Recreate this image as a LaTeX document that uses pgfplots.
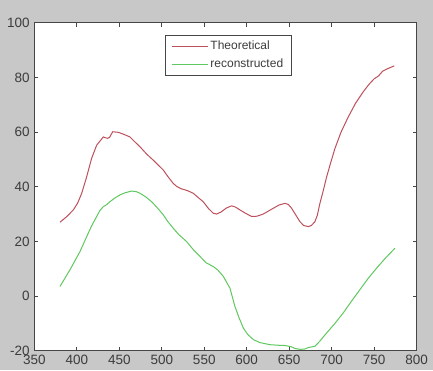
\documentclass[border=0pt]{standalone}
\usepackage{pgfplots}
\pgfplotsset{compat=1.18}
\usepackage{fontspec}
\setmainfont{Liberation Sans}
\definecolor{bggray}{RGB}{200,200,200}
\definecolor{axisgray}{RGB}{70,70,70}
\definecolor{labelgray}{RGB}{60,60,60}
\definecolor{thred}{RGB}{190,80,92}
\definecolor{recgreen}{RGB}{95,200,95}
\begin{document}
\begin{tikzpicture}
\fill[bggray] (-34.3pt,-19.3pt) rectangle (398.7pt,350.7pt);
\begin{axis}[
  at={(0pt,0pt)}, anchor=south west,
  width=382.4pt, height=328pt, scale only axis,
  xmin=350, xmax=800, ymin=-20, ymax=100,
  xtick={350,400,...,800}, ytick={-20,0,...,100},
  tick align=inside, major tick length=4pt,
  axis line style={draw=axisgray, line width=0.9pt},
  every tick/.style={axisgray, line width=0.8pt},
  tick label style={font=\fontsize{13.5}{15}\selectfont, text=labelgray},
  /pgf/number format/assume math mode=true,
  /pgf/number format/1000 sep={},
  axis background/.style={fill=white},
  xticklabel style={inner sep=0pt, anchor=north, yshift=-4pt},
  yticklabel style={inner sep=0pt, anchor=east, xshift=-4.5pt},
  legend style={at={(0.342,0.9625)}, anchor=north west, draw=axisgray, line width=0.8pt,
    fill=white, font=\fontsize{12}{14}\selectfont, text=labelgray,
    inner xsep=6pt, inner ysep=2.5pt, row sep=0pt,
    nodes={text height=9pt, text depth=3pt, inner ysep=2.7pt}},
  legend cell align=left,
  legend image code/.code={\draw[#1] (0pt,0pt) -- (36pt,0pt);},
  clip=true,
]
\addplot[thred, line width=1.0pt] coordinates {
(380.2,27.0)(388,29.0)(395.9,31.5)(401,34.0)(405.8,37.6)(411.6,43.6)(417.5,50.4)
(423.4,55.2)(431.2,58.2)(435.9,57.7)(438.5,58.0)(442.2,60.1)(448.8,59.9)(455,59.2)
(462.6,58.2)(468,56.5)(474.4,54.6)(482,52.0)(490,49.7)(501.8,46.1)(507,43.8)
(513.5,41.2)(518,40.0)(523.4,39.2)(530,38.6)(537,37.6)(543,36.0)(548.8,34.5)
(555,32.0)(560.6,30.3)(564.6,30.0)(570,30.8)(576,32.2)(582.2,33.0)(587,32.5)
(592,31.5)(599,30.2)(605.8,29.1)(612,29.2)(619.4,30.0)(625,31.0)(631.2,32.1)
(638,33.3)(645,33.9)(649,33.5)(652.8,32.1)(657,30.0)(662.6,27.2)(667,25.8)
(672.4,25.4)(676,25.8)(680.2,27.2)(683,29.5)(686.1,33.9)(690,38.5)(694,43.6)
(699,49.0)(703.8,54.0)(711,60.0)(719.4,65.5)(728,70.5)(737,74.7)(744,77.5)
(750,79.5)(755,80.5)(760,82.3)(766,83.2)(773.5,84.2)
};
\addlegendentry{Theoretical}
\addplot[recgreen, line width=1.0pt] coordinates {
(380.2,3.5)(386,6.5)(392,9.6)(398,13.0)(403.8,16.3)(408,19.2)(413.5,23.0)
(418,26.0)(423.4,29.1)(427,31.2)(431.2,32.7)(435,33.4)(439,34.5)(445,35.9)
(450.8,37.0)(457,37.8)(464.6,38.4)(470,38.2)(474.4,37.6)(481,36.3)(488.1,34.5)
(495,32.2)(501.8,29.7)(507,27.3)(513.5,24.8)(520,22.5)(529.3,19.9)(537,17.0)
(545,14.5)(552,12.2)(560.6,10.8)(566,9.5)(572.4,7.2)(576.4,5.0)(580.2,2.9)
(586.1,-3.8)(591,-8.0)(596,-11.7)(601,-14.0)(607.7,-15.9)(615,-17.0)(627.3,-17.8)
(637,-18.0)(645,-18.1)(652,-18.5)(657,-19.2)(662.6,-19.5)(668,-19.4)(673,-18.8)
(680.2,-18.4)(686,-16.5)(694,-13.5)(703,-10.3)(713.5,-6.2)(723,-2.0)(733.1,2.3)
(743,6.5)(752.8,10.2)(763,13.8)(774.4,17.5)
};
\addlegendentry{reconstructed}
\end{axis}
\pgfresetboundingbox
\useasboundingbox (-34.3pt,-19.3pt) rectangle (398.7pt,350.7pt);
\end{tikzpicture}
\end{document}
